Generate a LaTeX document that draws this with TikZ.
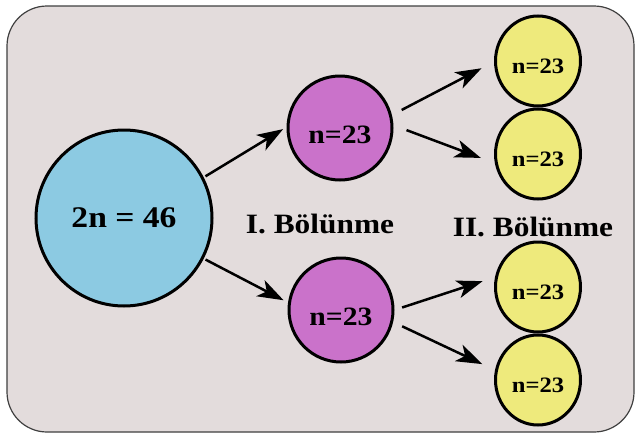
\documentclass[tikz,border=0pt]{standalone}
\usepackage{fontspec}
\setmainfont{Liberation Serif}[FakeStretch=1.12]
\usepackage{tikz}
\usetikzlibrary{shapes.geometric,arrows.meta}
\definecolor{paper}{HTML}{E3DCDC}
\definecolor{dipc}{HTML}{8CCAE2}
\definecolor{hapc}{HTML}{CA72CA}
\definecolor{gamc}{HTML}{EEEA7C}
\tikzset{
  frame/.style={draw=black!75,fill=paper,line width=1.2pt,rounded corners=40pt},
  dip/.style={circle,draw,fill=dipc,line width=3pt,minimum size=176pt,
    inner sep=0pt,font=\bfseries\fontsize{30}{32}\selectfont},
  hap/.style={circle,draw,fill=hapc,line width=3pt,minimum size=104pt,
    inner sep=0pt,text height=30pt,text depth=0pt,
    font=\bfseries\fontsize{26.5}{28}\selectfont},
  gam/.style={ellipse,draw,fill=gamc,line width=3pt,minimum width=85pt,
    minimum height=90pt,inner sep=0pt,text height=25pt,text depth=0pt,
    font=\bfseries\fontsize{22}{24}\selectfont},
  lbl/.style={anchor=base,inner sep=0pt,font=\bfseries\fontsize{28}{30}\selectfont},
  fl/.style={-{Stealth[length=26pt,width=18pt,inset=7pt]},line width=2.5pt},
}
\begin{document}
\begin{tikzpicture}[x=1pt,y=-1pt]
  \useasboundingbox (0,0) rectangle (637,442);
  \fill[white] (0,0) rectangle (637,442);
  \draw[frame] (7,6) rectangle (634,432);
  % cells
  \node[dip] (c) at (124,218) {2n = 46};
  \node[hap] (m1) at (340,128) {n=23};
  \node[hap] (m2) at (341,310) {n=23};
  \node[gam] (y1) at (538,61) {n=23};
  \node[gam] (y2) at (538,154) {n=23};
  \node[gam] (y3) at (538,287) {n=23};
  \node[gam] (y4) at (538,380) {n=23};
  % stages
  \node[lbl] (b1) at (320,233) {I. Bölünme};
  \node[lbl] (b2) at (533,236) {II. Bölünme};
  % arrows
  \draw[fl,shorten <=2pt,shorten >=4pt] (c.27) -- (m1.179);
  \draw[fl,shorten <=2pt,shorten >=5pt] (c.-27) -- (m2.172);
  \draw[fl,shorten <=11pt,shorten >=14pt] (m1.14) -- (y1.181);
  \draw[fl,shorten <=14pt,shorten >=15pt] (m1.3) -- (y2.192);
  \draw[fl,shorten <=8pt,shorten >=13pt] (m2.0) -- (y3.167);
  \draw[fl,shorten <=10pt,shorten >=14pt] (m2.-13) -- (y4.167);
\end{tikzpicture}
\end{document}
